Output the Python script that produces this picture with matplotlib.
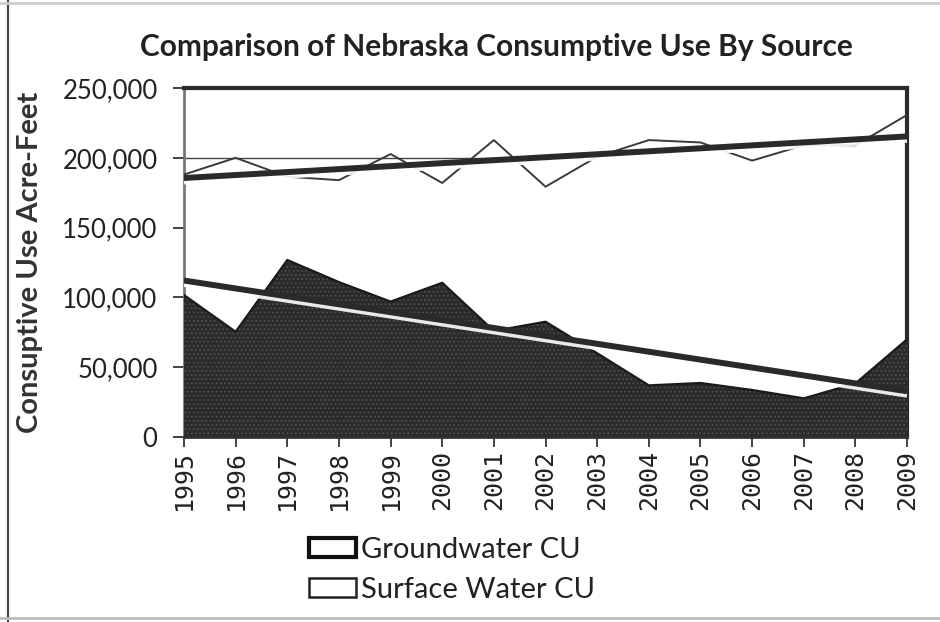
import numpy as np
import matplotlib
matplotlib.use("Agg")
import matplotlib.pyplot as plt
import matplotlib.patheffects as pe
from matplotlib.patches import Patch
from matplotlib.ticker import FuncFormatter

years = list(range(1995, 2010))
groundwater = [188000, 200000, 186500, 184000, 202700, 182000, 212700, 179300,
               200800, 212700, 211000, 198000, 209000, 209000, 230700]
surface = [101700, 75400, 126800, 111000, 97000, 110500, 76000, 82600,
           60000, 37000, 38700, 33700, 27700, 38400, 70000]

title = "Comparison of Nebraska Consumptive Use By Source"
ylabel = "Consuptive Use Acre-Feet"

plt.rcParams['font.family'] = ['Lato', 'DejaVu Sans']
plt.rcParams['hatch.linewidth'] = 0.6

fig = plt.figure(figsize=(9.4, 6.22), dpi=100)
ax = fig.add_axes([0.1957, 0.2974, 0.7693, 0.5611])

x = np.array(years)
gw = np.array(groundwater)
sw = np.array(surface)

# groundwater area (white fill, dark outline), surface area on top (dark, speckled)
ax.fill_between(x, gw, 0, facecolor='white', edgecolor='none', zorder=1)
ax.plot(x, gw, color='#3a3a3a', lw=1.4, zorder=4)
ax.axhline(200000, xmax=0.55, color='#444444', lw=1.0, zorder=2)
ax.fill_between(x, sw, 0, facecolor='#2b2b2b', edgecolor='#575757', hatch='....',
                lw=0, zorder=3)
ax.plot(x, sw, color='#1a1a1a', lw=1.6, zorder=3.5)

# linear trend lines
shadow = [pe.SimpleLineShadow(offset=(0, -2.5), shadow_color='white', alpha=0.9), pe.Normal()]
for vals in (gw, sw):
    k, b = np.polyfit(x, vals, 1)
    ax.plot(x, k * x + b, color='#2a2a2a', lw=4.3, zorder=5, path_effects=shadow,
            solid_capstyle='butt')

ax.set_xlim(1995, 2009)
ax.set_ylim(0, 250000)
ax.set_yticks(range(0, 250001, 50000))
ax.yaxis.set_major_formatter(FuncFormatter(lambda v, p: f"{int(v):,}"))
ax.set_xticks(years)
ax.set_xticklabels([str(y) for y in years], rotation=90, family='DejaVu Sans Mono',
                   fontsize=18, color='#222222')
ax.tick_params(axis='y', labelsize=18.5, colors='#222222', length=8, width=1.2, pad=11)
ax.tick_params(axis='x', length=7, width=1.2, pad=2, colors='#222222')

for side in ('top', 'right'):
    ax.spines[side].set_linewidth(3)
    ax.spines[side].set_color('#2a2a2a')
ax.spines['left'].set_linewidth(2)
ax.spines['left'].set_color('#777777')
ax.spines['bottom'].set_linewidth(2)
ax.spines['bottom'].set_color('#333333')

ax.set_ylabel(ylabel, fontsize=21, fontweight='bold', color='#333333')
ax.yaxis.set_label_coords(-0.195, 0.5)
fig.text(0.528, 0.924, title, ha='center', va='center', fontsize=21.5,
         fontweight='bold', color='#222222')

handles = [Patch(facecolor='white', edgecolor='#111111', lw=3, label='Groundwater CU'),
           Patch(facecolor='white', edgecolor='#222222', lw=1.8, label='Surface Water CU')]
fig.legend(handles=handles, loc='center', bbox_to_anchor=(0.481, 0.0836), frameon=False,
           fontsize=21, handlelength=1.6, handleheight=0.62, handletextpad=0.17,
           labelspacing=0.48, labelcolor='#222222', borderaxespad=0, borderpad=0)

# page frame of the scanned sheet
fig.add_artist(plt.Line2D([0.009, 0.009], [0, 1], color='#444444', lw=1.5))
fig.add_artist(plt.Line2D([0, 1], [0.995, 0.995], color='#cccccc', lw=2))
fig.add_artist(plt.Line2D([0, 1], [0.006, 0.006], color='#bbbbbb', lw=2))

fig.savefig("out.png", dpi=100)
